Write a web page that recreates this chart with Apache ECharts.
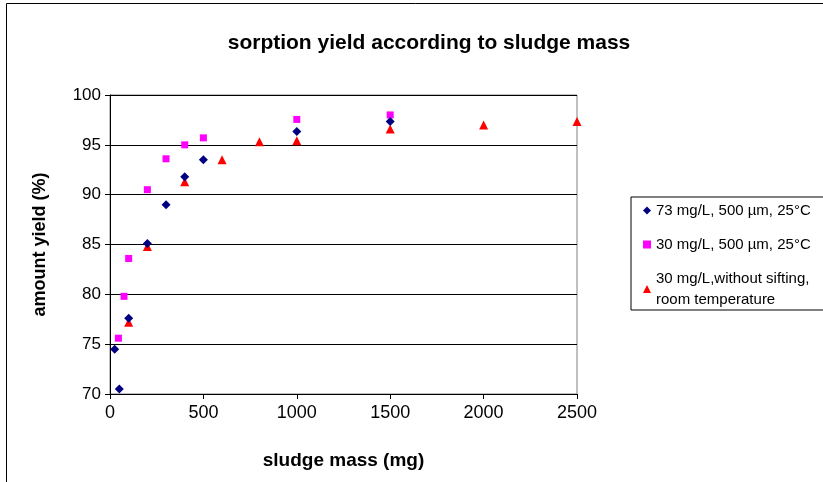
<!DOCTYPE html>
<html>
<head>
<meta charset="utf-8">
<script src="https://cdn.jsdelivr.net/npm/echarts@6/dist/echarts.min.js"></script>
<style>
html, body { margin: 0; padding: 0; background: #fff; }
#chart { width: 823px; height: 482px; }
</style>
</head>
<body>
<div id="chart"></div>
<script>
// series 1: 73 mg/L, 500 um, 25C
const massA = [25, 50, 100, 200, 300, 400, 500, 1000, 1500];
const yieldA = [74.5, 70.5, 77.6, 85.1, 89.0, 91.8, 93.5, 96.35, 97.35];
// series 2: 30 mg/L, 500 um, 25C
const massB = [45, 75, 100, 200, 300, 400, 500, 1000, 1500];
const yieldB = [75.6, 79.8, 83.6, 90.5, 93.6, 95.0, 95.7, 97.55, 98.0];
// series 3: 30 mg/L, without sifting, room temperature
const massC = [100, 200, 400, 600, 800, 1000, 1500, 2000, 2500];
const yieldC = [77.2, 84.8, 91.3, 93.5, 95.3, 95.4, 96.6, 97.0, 97.35];

const seriesNames = [
    '73 mg/L, 500 µm, 25°C',
    '30 mg/L, 500 µm, 25°C',
    '30 mg/L,without sifting,\nroom temperature'
];
const yTicks = [70, 75, 80, 85, 90, 95, 100];
const xTicks = [0, 500, 1000, 1500, 2000, 2500];

function pairs(xs, ys) {
    return xs.map((x, i) => [x, ys[i]]);
}

const chart = echarts.init(document.getElementById('chart'), null, { renderer: 'canvas' });

const option = {
    animation: false,
    backgroundColor: '#fff',
    textStyle: { fontFamily: 'Liberation Sans, Arial, sans-serif', color: '#000' },
    title: {
        text: 'sorption yield according to sludge mass',
        left: 424,
        textAlign: 'center',
        top: 28,
        textStyle: { fontSize: 21, fontWeight: 'bold', color: '#000' }
    },
    graphic: [{
        type: 'rect',
        shape: { x: 6.5, y: 3.5, width: 840, height: 500 },
        style: { fill: 'none', stroke: '#000', lineWidth: 1 },
        silent: true
    }],
    legend: {
        orient: 'vertical',
        left: 631,
        top: 197,
        padding: [3, 30, 0, 12],
        itemGap: 13,
        itemWidth: 8,
        itemHeight: 8,
        borderColor: '#000',
        borderWidth: 1,
        textStyle: { fontSize: 15, color: '#000', lineHeight: 21 },
        data: seriesNames
    },
    grid: {
        left: 110,
        right: 246,
        top: 95,
        bottom: 88,
        show: true,
        borderColor: '#808080',
        borderWidth: 1
    },
    xAxis: {
        type: 'value',
        min: xTicks[0],
        max: xTicks[xTicks.length - 1],
        interval: 500,
        name: 'sludge mass (mg)',
        nameLocation: 'middle',
        nameGap: 57,
        nameTextStyle: { fontSize: 19, fontWeight: 'bold', color: '#000' },
        axisLine: { lineStyle: { color: '#000', width: 1 } },
        axisTick: { show: true, length: 5, lineStyle: { color: '#000' } },
        axisLabel: { fontSize: 18, color: '#000', margin: 10, formatter: v => String(v) },
        splitLine: { show: false }
    },
    yAxis: {
        type: 'value',
        min: yTicks[0],
        max: yTicks[yTicks.length - 1],
        interval: 5,
        name: 'amount yield (%)',
        nameLocation: 'middle',
        nameGap: 61,
        nameTextStyle: { fontSize: 18, fontWeight: 'bold', color: '#000' },
        axisLine: { show: true, lineStyle: { color: '#000', width: 1 } },
        axisTick: { show: true, length: 5, lineStyle: { color: '#000' } },
        axisLabel: { fontSize: 17, color: '#000', margin: 9 },
        splitLine: { show: true, lineStyle: { color: '#000', width: 1 } }
    },
    series: [
        {
            name: seriesNames[0],
            type: 'scatter',
            symbol: 'diamond',
            symbolSize: 9,
            itemStyle: { color: '#000080', opacity: 1 },
            data: pairs(massA, yieldA),
            z: 3
        },
        {
            name: seriesNames[1],
            type: 'scatter',
            symbol: 'rect',
            symbolSize: 7,
            itemStyle: { color: '#FF00FF', opacity: 1 },
            data: pairs(massB, yieldB),
            z: 2
        },
        {
            name: seriesNames[2],
            type: 'scatter',
            symbol: 'triangle',
            symbolSize: 9,
            itemStyle: { color: '#FF0000', opacity: 1 },
            data: pairs(massC, yieldC),
            z: 2
        }
    ]
};

chart.setOption(option);
window.addEventListener('resize', () => chart.resize(), { passive: true });
</script>
</body>
</html>
